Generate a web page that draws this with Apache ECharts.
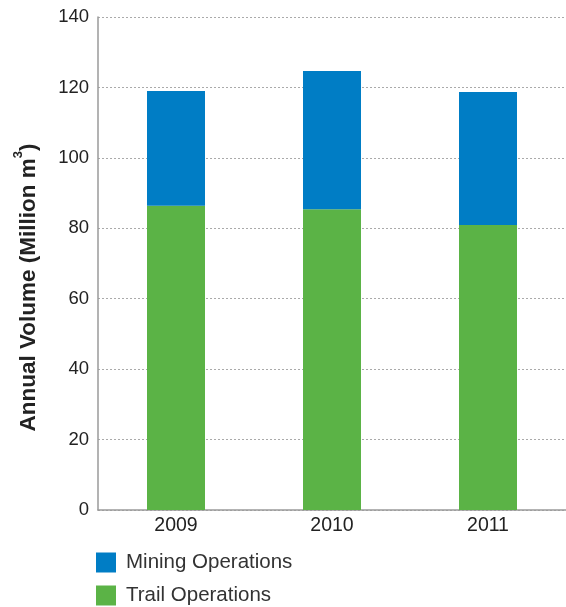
<!DOCTYPE html>
<html>
<head>
<meta charset="utf-8">
<script src="https://cdn.jsdelivr.net/npm/echarts@6/dist/echarts.min.js"></script>
<style>
  html, body { margin: 0; padding: 0; background: #fff; }
  #chart { width: 566px; height: 607px; }
</style>
</head>
<body>
<div id="chart"></div>
<script>
// Annual volume by year, split by operation type (million m³)
const years = ['2009', '2010', '2011'];
const trailOperations = [86.4, 85.4, 80.9];
const miningOperations = [32.6, 39.3, 37.8];
const yTicks = { min: 0, max: 140, interval: 20 };

const FONT = '"Liberation Sans", Arial, sans-serif';
const BLUE = '#007dc5';
const GREEN = '#5bb346';

const chart = echarts.init(document.getElementById('chart'));
chart.setOption({
  animation: false,
  backgroundColor: '#fff',
  grid: { left: 98, top: 17, right: 0, bottom: 97, containLabel: false },
  legend: {
    orient: 'vertical',
    left: 96,
    top: 552,
    padding: 0,
    itemWidth: 20,
    itemHeight: 20,
    itemGap: 12,
    icon: 'rect',
    data: ['Mining Operations', 'Trail Operations'],
    textStyle: { fontFamily: FONT, fontSize: 20.5, color: '#333', padding: [7, 0, 0, 5] }
  },
  xAxis: {
    type: 'category',
    data: years,
    axisLine: { show: true, lineStyle: { color: '#9a9a9a', width: 1.5 } },
    axisTick: { show: false },
    axisLabel: { fontFamily: FONT, fontSize: 19.5, color: '#222', margin: 6 }
  },
  yAxis: {
    type: 'value',
    min: yTicks.min,
    max: yTicks.max,
    interval: yTicks.interval,
    name: '{t|Annual Volume (Million m}{s|3}{t|)}',
    nameLocation: 'middle',
    nameGap: 58,
    nameRotate: 90,
    nameTextStyle: {
      padding: [0, 48, 0, 0],
      rich: {
        t: { fontFamily: FONT, fontSize: 22.5, fontWeight: 'bold', color: '#222', lineHeight: 28, verticalAlign: 'bottom' },
        s: { fontFamily: FONT, fontSize: 13, fontWeight: 'bold', color: '#222', lineHeight: 28, verticalAlign: 'top' }
      }
    },
    axisLine: { show: true, lineStyle: { color: '#9a9a9a', width: 1.5 } },
    axisTick: { show: false },
    axisLabel: { fontFamily: FONT, fontSize: 18.5, color: '#222', margin: 9 },
    splitLine: { show: true, lineStyle: { color: '#aaaaaa', type: [2, 2], width: 1 } }
  },
  series: [
    {
      name: 'Trail Operations',
      type: 'bar',
      stack: 'total',
      barWidth: 58,
      itemStyle: { color: GREEN },
      data: trailOperations
    },
    {
      name: 'Mining Operations',
      type: 'bar',
      stack: 'total',
      barWidth: 58,
      itemStyle: { color: BLUE },
      data: miningOperations
    }
  ]
});
</script>
</body>
</html>
